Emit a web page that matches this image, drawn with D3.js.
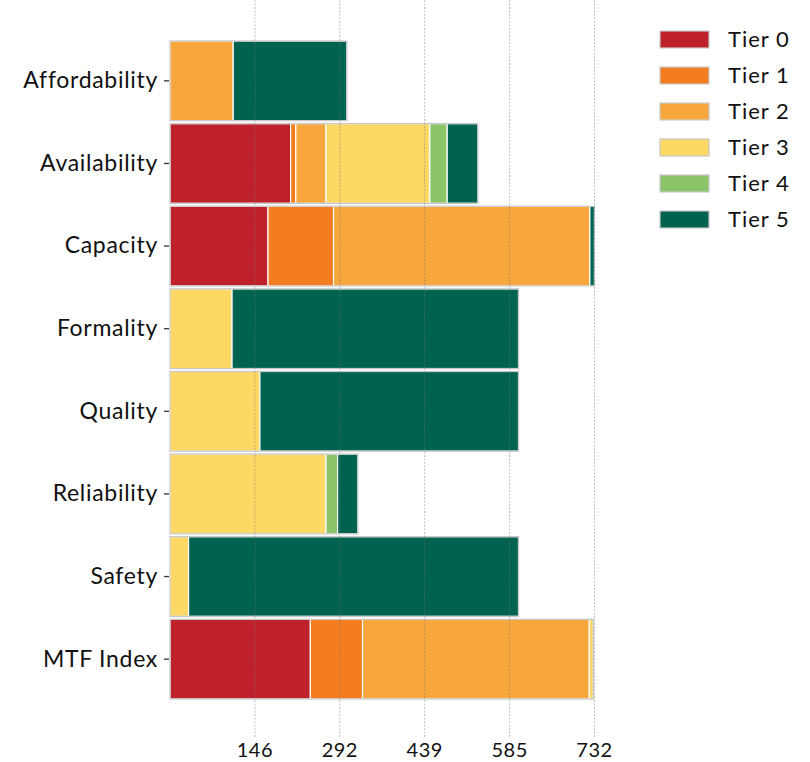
<!DOCTYPE html>
<html>
<head>
<meta charset="utf-8">
<script src="https://cdn.jsdelivr.net/npm/d3@7"></script>
<style>
  body { margin: 0; background: #fff; }
  text { font-family: "Lato", "Noto Sans", sans-serif; fill: #111; }
</style>
</head>
<body>
<div class="main"></div>
<script>
// data
let categories = ["Affordability", "Availability", "Capacity", "Formality", "Quality", "Reliability", "Safety", "MTF Index"];
let tiers = ["Tier 0", "Tier 1", "Tier 2", "Tier 3", "Tier 4", "Tier 5"];
let tier0 = [0, 208, 169, 0, 0, 0, 0, 242];
let tier1 = [0, 9, 113, 0, 0, 0, 0, 90];
let tier2 = [109, 52, 442, 0, 0, 0, 0, 391];
let tier3 = [0, 179, 0, 107, 155, 269, 32, 7];
let tier4 = [0, 30, 0, 0, 0, 20, 0, 0];
let tier5 = [196, 53, 8, 494, 446, 35, 569, 0];
let tickValues = [146.4, 292.8, 439.2, 585.6, 732];
let tickLabels = ["146", "292", "439", "585", "732"];
let colors = ["#be2129", "#f47d20", "#f8a73c", "#fdd865", "#8cc46a", "#00634f"];

let width = 810, height = 762;
let left = 170;

let svg = d3.select("div.main").append("svg")
  .attr("width", width)
  .attr("height", height);

// one row per category
let rows = categories.map(function(c, i) {
  return {cat: c, "Tier 0": tier0[i], "Tier 1": tier1[i], "Tier 2": tier2[i],
          "Tier 3": tier3[i], "Tier 4": tier4[i], "Tier 5": tier5[i]};
});
let stacked = d3.stack().keys(tiers)(rows);

let x = d3.scaleLinear()
  .domain([0, 732])
  .range([left, 594.5]);

let y = d3.scaleBand()
  .domain(categories)
  .range([41, 699])
  .paddingInner(0.035)
  .paddingOuter(0);

let color = d3.scaleOrdinal().domain(tiers).range(colors);

// bars
let layers = svg.append("g").selectAll("g")
  .data(stacked)
  .enter().append("g")
  .attr("fill", function(d) { return color(d.key); });

layers.selectAll("rect")
  .data(function(d) { return d; })
  .enter().filter(function(d) { return d[1] - d[0] > 0; })
  .append("rect")
  .attr("x", function(d) { return x(d[0]); })
  .attr("y", function(d) { return y(d.data.cat); })
  .attr("width", function(d) { return x(d[1]) - x(d[0]); })
  .attr("height", y.bandwidth())
  .attr("stroke", "#ffffff")
  .attr("stroke-width", 1.2);

// outline round each whole bar
svg.append("g").selectAll("rect")
  .data(rows)
  .enter().append("rect")
  .attr("x", x(0))
  .attr("y", function(d) { return y(d.cat); })
  .attr("width", function(d) { return x(d3.sum(tiers, function(k) { return d[k]; })) - x(0); })
  .attr("height", y.bandwidth())
  .attr("fill", "none")
  .attr("stroke", "#c8c8c8")
  .attr("stroke-width", 1.3);

// dashed grid on top of the bars
svg.append("g").selectAll("line")
  .data(tickValues)
  .enter().append("line")
  .attr("x1", function(d) { return x(d); })
  .attr("x2", function(d) { return x(d); })
  .attr("y1", 0)
  .attr("y2", 738)
  .attr("stroke", "#777")
  .attr("stroke-opacity", 0.6)
  .attr("stroke-width", 0.8)
  .attr("stroke-dasharray", "2,1.5");

// x tick labels
svg.append("g").selectAll("text")
  .data(tickValues)
  .enter().append("text")
  .attr("x", function(d) { return x(d); })
  .attr("y", 757)
  .attr("text-anchor", "middle")
  .style("font-size", "20px")
  .style("letter-spacing", "0.5px")
  .text(function(d, i) { return tickLabels[i]; });

// y axis labels and small ticks
let yAxis = svg.append("g")
  .attr("transform", "translate(" + (left - 1) + ",0)")
  .call(d3.axisLeft(y).tickSize(5).tickPadding(6));
yAxis.select(".domain").remove();
yAxis.selectAll(".tick line").attr("stroke", "#333").attr("stroke-width", 1.3);
yAxis.selectAll(".tick text")
  .style("font-size", "23px")
  .style("letter-spacing", "0.7px")
  .style("font-family", "Lato, 'Noto Sans', sans-serif")
  .attr("fill", "#111");

// legend
let legend = svg.append("g").attr("transform", "translate(660,31)");
let item = legend.selectAll("g")
  .data(tiers)
  .enter().append("g")
  .attr("transform", function(d, i) { return "translate(0," + i * 36 + ")"; });
item.append("rect")
  .attr("width", 49)
  .attr("height", 17)
  .attr("fill", function(d) { return color(d); })
  .attr("stroke", "#c8c8c8")
  .attr("stroke-width", 1.2);
item.append("text")
  .attr("x", 68)
  .attr("y", 16)
  .style("font-size", "22px")
  .style("letter-spacing", "1px")
  .text(function(d) { return d; });
</script>
</body>
</html>
